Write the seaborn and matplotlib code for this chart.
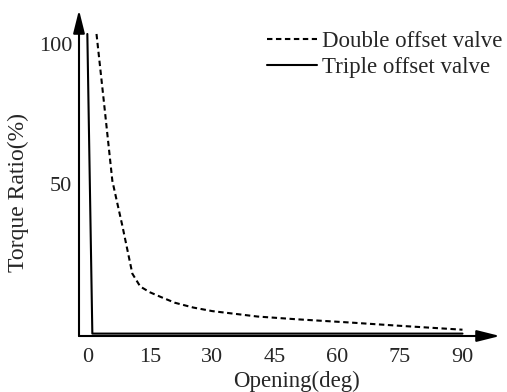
import matplotlib
matplotlib.use("Agg")
import matplotlib.pyplot as plt
import matplotlib.transforms as mtransforms
import seaborn as sns
import pandas as pd

double_x = [2.2, 4.0, 6.0, 7.0, 8.4, 9.6, 10.8, 12.7, 15.0, 17.5, 21.0, 25.4, 30.0, 40.8, 50.0, 63.0, 75.0, 90.0]
double_y = [100, 77, 51, 44.7, 36, 28, 20, 15.7, 13.8, 12.3, 10.3, 8.7, 7.5, 5.7, 4.8, 3.7, 2.6, 1.3]
triple_x = [0.0, 1.2, 90.0]
triple_y = [100, 0, 0]
labels = ["Double offset valve", "Triple offset valve"]
xticks = [0, 15, 30, 45, 60, 75, 90]
yticks = [50, 100]

df = pd.concat([
    pd.DataFrame({"Opening": double_x, "Torque": double_y, "valve": labels[0]}),
    pd.DataFrame({"Opening": triple_x, "Torque": triple_y, "valve": labels[1]}),
], ignore_index=True)

sns.set_style("white")
plt.rcParams["font.family"] = ["Liberation Serif", "DejaVu Serif"]

W, H = 507, 392
fig = plt.figure(figsize=(W / 100, H / 100), dpi=100)
ax = fig.add_axes([79 / W, 1 - 336 / H, (500 - 79) / W, (336 - 10) / H])

sns.lineplot(data=df, x="Opening", y="Torque", style="valve", hue="valve",
             palette={labels[0]: "black", labels[1]: "black"},
             dashes={labels[0]: (2.6, 1.7), labels[1]: ""},
             sort=False, estimator=None, linewidth=1.5, ax=ax)

ax.set_xlim(-2, 99)
ax.set_ylim(-0.8, 108)
for s in ax.spines.values():
    s.set_visible(False)
ax.set_xticks(xticks)
ax.set_yticks(yticks)
ax.tick_params(axis="both", length=0, labelsize=16)
ax.tick_params(axis="x", pad=9)
ax.tick_params(axis="y", pad=5)

# the reference prints the "100" label slightly below its line level
fig.canvas.draw()
for lbl in ax.get_yticklabels():
    if lbl.get_text() == "100":
        lbl.set_transform(lbl.get_transform() +
                          mtransforms.ScaledTranslation(0, -10 / 100, fig.dpi_scale_trans))

ax.set_xlabel("Opening(deg)", fontsize=16.5)
ax.set_ylabel("Torque Ratio(%)", fontsize=17)
ax.xaxis.set_label_coords((296 - 79) / 421, (336 - 381) / 326)
ax.xaxis.label.set_va("center")
ax.yaxis.set_label_coords((18 - 79) / 421, (336 - 192) / 326)
ax.yaxis.label.set_va("center")

arrow = dict(arrowstyle="-|>,head_length=1.4,head_width=0.35", color="black", lw=1.5,
             shrinkA=0, shrinkB=0)
ax.annotate("", xy=(1, 0), xytext=(0, 0), xycoords="axes fraction", arrowprops=arrow)
ax.annotate("", xy=(0, 1), xytext=(0, 0), xycoords="axes fraction", arrowprops=arrow)

leg = ax.legend(loc="upper left", frameon=False, fontsize=16.5, handlelength=2.2,
                handletextpad=0.2, labelspacing=0.2, borderaxespad=0, borderpad=0,
                bbox_to_anchor=(267 / W, 1 - 31 / H), bbox_transform=fig.transFigure)
for h in leg.get_lines():
    h.set_linewidth(1.5)

fig.savefig("out.png", dpi=100)
